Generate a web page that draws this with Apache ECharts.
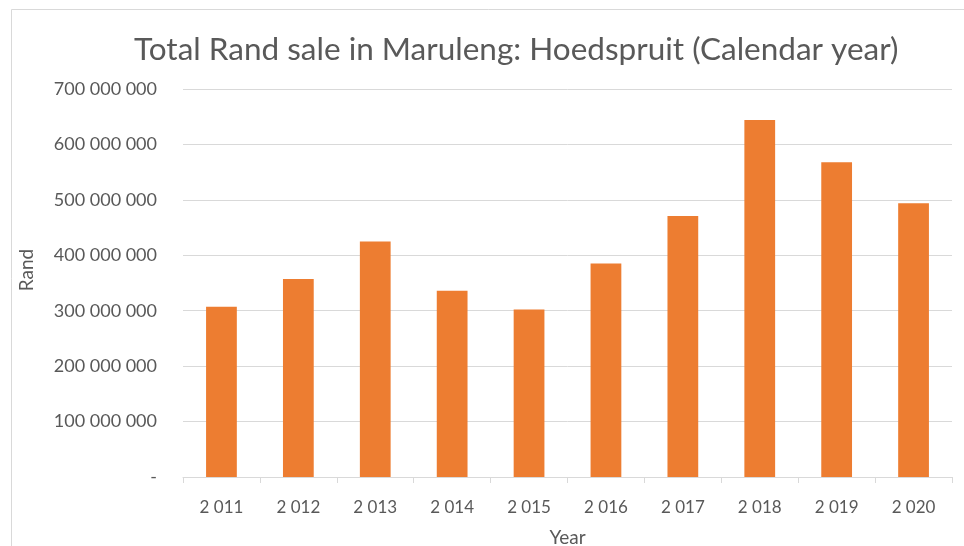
<!DOCTYPE html>
<html>
<head>
<meta charset="utf-8">
<script src="https://cdn.jsdelivr.net/npm/echarts@6/dist/echarts.min.js"></script>
<style>
  html, body { margin: 0; padding: 0; background: #fff; }
  #chart { width: 964px; height: 546px; }
</style>
</head>
<body>
<div id="chart"></div>
<script>
// years on the x axis, written the way the source prints them
var years = ['2 011', '2 012', '2 013', '2 014', '2 015', '2 016', '2 017', '2 018', '2 019', '2 020']
// total Rand sales per calendar year
var sales = [307e6, 357e6, 425e6, 336e6, 302e6, 385e6, 471e6, 644e6, 568e6, 494e6]
var yTicks = [0, 100e6, 200e6, 300e6, 400e6, 500e6, 600e6, 700e6]

var fontName = 'Lato, "Open Sans", sans-serif'
var textColor = '#595959'

// 300000000 -> "300 000 000", 0 -> "-"
function fmt (v) {
  if (v === 0) return '-'
  return String(Math.round(v)).replace(/\B(?=(\d{3})+(?!\d))/g, ' ')
}

var chart = echarts.init(document.getElementById('chart'))
chart.setOption({
  animation: false,
  backgroundColor: '#fff',
  textStyle: { fontFamily: fontName },
  title: {
    text: 'Total Rand sale in Maruleng: Hoedspruit (Calendar year)',
    left: 129,
    top: 29,
    textStyle: { fontFamily: fontName, fontSize: 31.5, fontWeight: 'normal', color: textColor }
  },
  graphic: [{
    type: 'rect',
    shape: { x: 11.5, y: 9.5, width: 960, height: 560 },
    style: { fill: 'none', stroke: '#d9d9d9', lineWidth: 1 },
    silent: true
  }, {
    // y axis title sits a bit above the middle in the source
    type: 'text',
    x: 27,
    y: 270,
    rotation: Math.PI / 2,
    style: {
      text: 'Rand',
      fontFamily: fontName,
      fontSize: 19,
      fill: textColor,
      align: 'center',
      verticalAlign: 'middle'
    },
    silent: true
  }],
  // keep the plot box fixed, the x axis name hangs off the bottom edge like in the source
  grid: { left: 183, right: 12, top: 89, bottom: 69, outerBoundsMode: 'none' },
  xAxis: {
    type: 'category',
    data: years,
    name: 'Year',
    nameLocation: 'middle',
    nameGap: 51,
    nameTextStyle: { fontSize: 19, color: textColor },
    axisLine: { lineStyle: { color: '#d9d9d9' } },
    axisTick: { show: true, length: 6, lineStyle: { color: '#d9d9d9' } },
    axisLabel: { fontSize: 17, color: textColor, margin: 22 }
  },
  yAxis: {
    type: 'value',
    min: yTicks[0],
    max: yTicks[yTicks.length - 1],
    interval: yTicks[1] - yTicks[0],
    axisLine: { show: false },
    axisTick: { show: false },
    axisLabel: { fontSize: 18, color: textColor, margin: 26, formatter: fmt },
    splitLine: { lineStyle: { color: '#d9d9d9' } }
  },
  series: [{
    name: 'Rand',
    type: 'bar',
    data: sales,
    barWidth: '40%',
    itemStyle: { color: '#ED7D31' }
  }]
})
</script>
</body>
</html>
